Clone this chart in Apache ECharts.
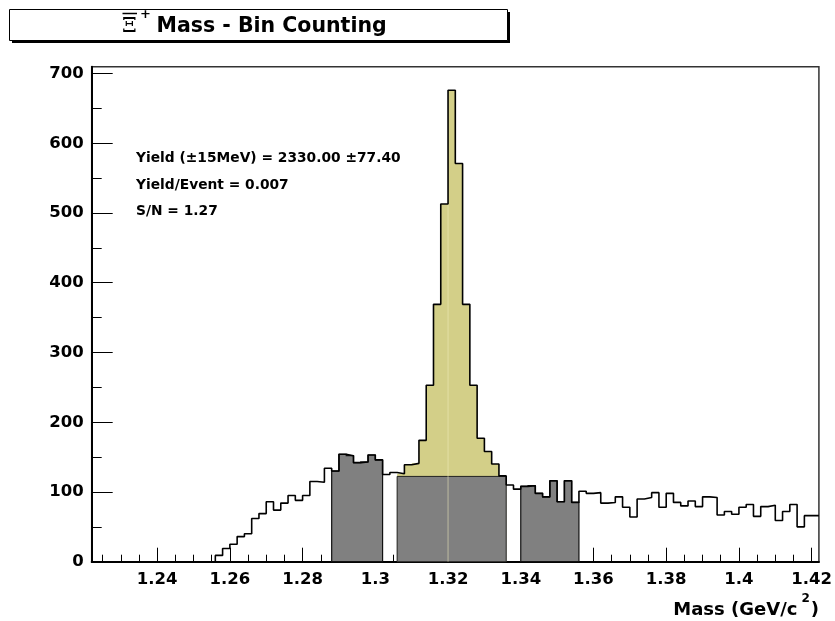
<!DOCTYPE html>
<html>
<head>
<meta charset="utf-8">
<script src="https://cdn.jsdelivr.net/npm/echarts@6/dist/echarts.min.js"></script>
<style>
html, body { margin: 0; padding: 0; background: #fff; }
#chart { width: 835px; height: 621px; }
</style>
</head>
<body>
<div id="chart"></div>
<script>
// Invariant-mass histogram binning (GeV/c^2)
const binStart = 1.222;
const binWidth = 0.002;
const binCount = 100;

// Entries per bin
const counts = [
  0, 0, 0, 0, 0, 0, 0, 0, 0, 0,
  0, 0, 0, 0, 0, 0, 0, 9, 19, 25,
  36, 40, 62, 69, 86, 74, 84, 95, 88, 95,
  115, 114, 134, 130, 154, 152, 142, 143, 153, 146,
  125, 128, 126, 139, 141, 174, 253, 369, 513, 676,
  571, 369, 253, 177, 158, 140, 123, 110, 104, 108,
  109, 98, 93, 116, 86, 116, 85, 101, 98, 99,
  84, 85, 93, 78, 64, 90, 92, 99, 78, 98,
  85, 80, 87, 79, 93, 92, 67, 72, 68, 78,
  82, 65, 79, 81, 59, 72, 82, 50, 66, 66
];

// Mass windows
const leftSideband = [1.288, 1.302];
const signalWindow = [1.306, 1.336];
const rightSideband = [1.340, 1.356];
const backgroundPerBin = 122.3;

// Axis ticks and labels
const xTickLabels = [1.24, 1.26, 1.28, 1.30, 1.32, 1.34, 1.36, 1.38, 1.40, 1.42];
const yTickLabels = [0, 100, 200, 300, 400, 500, 600, 700];
const xRange = [1.222, 1.422];
const yRange = [0, 709.8];

const statLines = [
  'Yield (\u00B115MeV) = 2330.00 \u00B177.40',
  'Yield/Event = 0.007',
  'S/N = 1.27'
];

const FONT = 'DejaVu Sans';
const GRAY = '#808080';
const YELLOW = '#d3cf88';

// minor ticks every 5 MeV on x, every 50 entries on y
const xMinor = [];
for (let i = 245; i <= 284; i++) {
  const v = i * 0.005;
  if (v > xRange[0] && v < xRange[1] && Math.abs(v * 50 - Math.round(v * 50)) > 1e-6) xMinor.push(+v.toFixed(3));
}
const yMinor = [];
for (let v = 50; v < yRange[1]; v += 100) yMinor.push(v);

const binIndex = x => Math.round((x - binStart) / binWidth);

function regionPoints(api, lo, hi) {
  const i0 = binIndex(lo), i1 = binIndex(hi);
  const pts = [api.coord([lo, 0])];
  for (let k = i0; k < i1; k++) {
    const a = binStart + k * binWidth;
    pts.push(api.coord([a, counts[k]]), api.coord([a + binWidth, counts[k]]));
  }
  pts.push(api.coord([hi, 0]));
  return pts;
}

// outline points (step at the end of each bin)
const outline = counts.map((c, k) => [binStart + k * binWidth, c]);
outline.push([binStart + binCount * binWidth, counts[binCount - 1]]);

const chart = echarts.init(document.getElementById('chart'), null, { renderer: 'canvas' });

const xAxisBase = {
  type: 'value', min: xRange[0], max: xRange[1], position: 'bottom',
  splitLine: { show: false }
};
const yAxisBase = {
  type: 'value', min: yRange[0], max: yRange[1], position: 'left',
  splitLine: { show: false }
};

chart.setOption({
  animation: false,
  backgroundColor: '#fff',
  grid: {
    left: 91.7, right: 14, top: 66.7, bottom: 59.3,
    show: true, borderColor: '#333', borderWidth: 1.5, backgroundColor: 'transparent'
  },
  xAxis: [
    Object.assign({}, xAxisBase, {
      axisLine: { show: true, lineStyle: { color: '#000', width: 2 } },
      axisTick: { show: true, inside: true, length: 14, customValues: xTickLabels, lineStyle: { color: '#000', width: 1 } },
      axisLabel: {
        show: true, customValues: xTickLabels, margin: 10,
        formatter: v => String(+(+v).toFixed(3)),
        color: '#000', fontFamily: FONT, fontWeight: 'bold', fontSize: 16.5
      }
    }),
    Object.assign({}, xAxisBase, {
      axisLine: { show: false },
      axisTick: { show: true, inside: true, length: 7, customValues: xMinor, lineStyle: { color: '#000', width: 1 } },
      axisLabel: { show: false }
    })
  ],
  yAxis: [
    Object.assign({}, yAxisBase, {
      axisLine: { show: true, lineStyle: { color: '#000', width: 2 } },
      axisTick: { show: true, inside: true, length: 21, customValues: yTickLabels, lineStyle: { color: '#000', width: 1 } },
      axisLabel: {
        show: true, customValues: yTickLabels, margin: 8,
        color: '#000', fontFamily: FONT, fontWeight: 'bold', fontSize: 16.5
      }
    }),
    Object.assign({}, yAxisBase, {
      axisLine: { show: false },
      axisTick: { show: true, inside: true, length: 10, customValues: yMinor, lineStyle: { color: '#000', width: 1 } },
      axisLabel: { show: false }
    })
  ],
  series: [
    {
      // signal window, full histogram content
      type: 'custom', name: 'signal', z: 2,
      xAxisIndex: 0, yAxisIndex: 0,
      data: [signalWindow],
      renderItem: (params, api) => ({
        type: 'polygon',
        shape: { points: regionPoints(api, api.value(0), api.value(1)) },
        style: { fill: YELLOW, stroke: null }
      })
    },
    {
      // sidebands
      type: 'custom', name: 'sidebands', z: 3,
      xAxisIndex: 0, yAxisIndex: 0,
      data: [leftSideband, rightSideband],
      renderItem: (params, api) => ({
        type: 'polygon',
        shape: { points: regionPoints(api, api.value(0), api.value(1)) },
        style: { fill: GRAY, stroke: '#111', lineWidth: 1.2 }
      })
    },
    {
      // estimated background under the peak
      type: 'custom', name: 'background', z: 4,
      xAxisIndex: 0, yAxisIndex: 0,
      data: [[signalWindow[0], signalWindow[1], backgroundPerBin]],
      renderItem: (params, api) => {
        const p0 = api.coord([api.value(0), api.value(2)]);
        const p1 = api.coord([api.value(1), 0]);
        return {
          type: 'rect',
          shape: { x: p0[0], y: p0[1], width: p1[0] - p0[0], height: p1[1] - p0[1] },
          style: { fill: GRAY, stroke: '#222', lineWidth: 1 }
        };
      }
    },
    {
      // divider between the two central bins
      type: 'custom', name: 'divider', z: 5,
      xAxisIndex: 0, yAxisIndex: 0,
      data: [[1.320]],
      renderItem: (params, api) => {
        const x = api.value(0);
        const k = binIndex(x);
        const top = Math.min(counts[k - 1], counts[k]);
        const a = api.coord([x, 0]), b = api.coord([x, top]);
        return {
          type: 'line',
          shape: { x1: a[0], y1: a[1], x2: b[0], y2: b[1] },
          style: { stroke: 'rgba(238,236,190,0.55)', lineWidth: 1 }
        };
      }
    },
    {
      type: 'line', name: 'counts', z: 6,
      xAxisIndex: 0, yAxisIndex: 0,
      step: 'end', showSymbol: false, symbol: 'none',
      data: outline,
      lineStyle: { color: '#000', width: 1.6 }
    }
  ],
  graphic: [
    // title pave with shadow
    { type: 'rect', z: 10, shape: { x: 12, y: 12, width: 498, height: 31 }, style: { fill: '#000' } },
    { type: 'rect', z: 11, shape: { x: 9.5, y: 9.5, width: 498, height: 31 }, style: { fill: '#fff', stroke: '#000', lineWidth: 1 } },
    { type: 'text', z: 12, x: 122, y: 26.5, style: { text: '\u039E', fontFamily: 'DejaVu Serif', fontSize: 21, fontWeight: 'normal', fill: '#000', verticalAlign: 'middle' } },
    { type: 'line', z: 12, shape: { x1: 122.5, y1: 13.5, x2: 137, y2: 13.5 }, style: { stroke: '#000', lineWidth: 1.5 } },
    { type: 'text', z: 12, x: 140, y: 15, style: { text: '+', fontFamily: FONT, fontSize: 13, fontWeight: 'bold', fill: '#000', verticalAlign: 'middle' } },
    { type: 'text', z: 12, x: 156.5, y: 27, style: { text: 'Mass - Bin Counting', fontFamily: FONT, fontSize: 20.5, fontWeight: 'bold', fill: '#000', verticalAlign: 'middle' } },
    // fit summary
    { type: 'text', z: 12, x: 136, y: 158, style: { text: statLines[0], fontFamily: FONT, fontSize: 13.8, fontWeight: 'bold', fill: '#000', verticalAlign: 'middle' } },
    { type: 'text', z: 12, x: 136, y: 185, style: { text: statLines[1], fontFamily: FONT, fontSize: 13.8, fontWeight: 'bold', fill: '#000', verticalAlign: 'middle' } },
    { type: 'text', z: 12, x: 136, y: 211, style: { text: statLines[2], fontFamily: FONT, fontSize: 13.8, fontWeight: 'bold', fill: '#000', verticalAlign: 'middle' } },
    // x-axis title with superscript
    {
      type: 'text', z: 12, right: 16, top: 593,
      style: {
        text: '{n|Mass (GeV/c}{s|2}{n|)}',
        fill: '#000',
        rich: {
          n: { fontFamily: FONT, fontSize: 18, fontWeight: 'bold', lineHeight: 26, verticalAlign: 'bottom' },
          s: { fontFamily: FONT, fontSize: 12, fontWeight: 'bold', lineHeight: 26, verticalAlign: 'top', padding: [0, 1, 0, 4] }
        }
      }
    }
  ]
});
</script>
</body>
</html>
